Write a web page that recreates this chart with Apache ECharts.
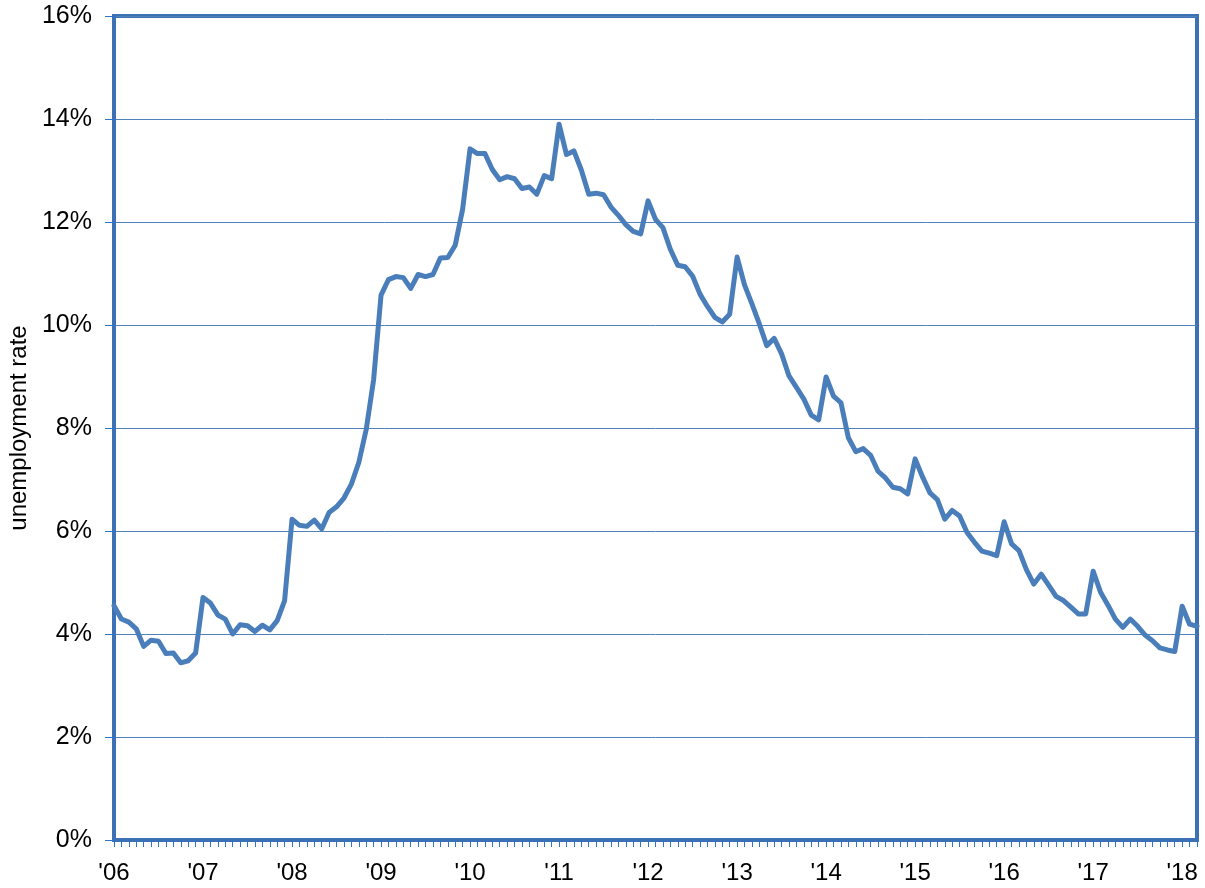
<!DOCTYPE html>
<html>
<head>
<meta charset="utf-8">
<script src="https://cdn.jsdelivr.net/npm/echarts@6/dist/echarts.min.js"></script>
<style>
  html, body { margin: 0; padding: 0; background: #fff; }
  #main { width: 1205px; height: 888px; }
</style>
</head>
<body>
<div id="main"></div>
<script>
// monthly unemployment rate (%), Jan 2006 .. Mar 2018
var years = ['06', '07', '08', '09', '10', '11', '12', '13', '14', '15', '16', '17', '18'];
var monthsInLastYear = 3;

var rate2006 = [4.55, 4.29, 4.23, 4.10, 3.76, 3.88, 3.86, 3.62, 3.63, 3.44, 3.48, 3.63];
var rate2007 = [4.71, 4.60, 4.37, 4.29, 4.00, 4.18, 4.16, 4.05, 4.17, 4.08, 4.26, 4.65];
var rate2008 = [6.23, 6.11, 6.09, 6.21, 6.04, 6.36, 6.47, 6.64, 6.91, 7.33, 7.97, 8.94];
var rate2009 = [10.58, 10.88, 10.94, 10.92, 10.71, 10.98, 10.94, 10.98, 11.30, 11.31, 11.55, 12.25];
var rate2010 = [13.42, 13.33, 13.33, 13.02, 12.82, 12.88, 12.84, 12.65, 12.68, 12.54, 12.90, 12.84];
var rate2011 = [13.90, 13.31, 13.38, 13.01, 12.54, 12.56, 12.53, 12.29, 12.13, 11.95, 11.82, 11.77];
var rate2012 = [12.41, 12.05, 11.89, 11.47, 11.16, 11.13, 10.95, 10.60, 10.36, 10.15, 10.06, 10.21];
var rate2013 = [11.32, 10.78, 10.41, 10.02, 9.60, 9.74, 9.44, 9.01, 8.79, 8.56, 8.25, 8.16];
var rate2014 = [8.99, 8.62, 8.49, 7.81, 7.54, 7.60, 7.47, 7.16, 7.03, 6.85, 6.82, 6.72];
var rate2015 = [7.40, 7.05, 6.74, 6.61, 6.23, 6.40, 6.29, 5.97, 5.78, 5.61, 5.57, 5.52];
var rate2016 = [6.18, 5.75, 5.62, 5.25, 4.97, 5.16, 4.95, 4.73, 4.65, 4.52, 4.39, 4.39];
var rate2017 = [5.22, 4.81, 4.56, 4.29, 4.13, 4.29, 4.15, 3.98, 3.87, 3.73, 3.69, 3.66];
var rate2018 = [4.54, 4.19, 4.15];

var rates = [].concat(rate2006, rate2007, rate2008, rate2009, rate2010, rate2011,
  rate2012, rate2013, rate2014, rate2015, rate2016, rate2017, rate2018);

// one category per month, label shown only on January
var months = [];
years.forEach(function (y, k) {
  var n = (k === years.length - 1) ? monthsInLastYear : 12;
  for (var m = 1; m <= n; m++) {
    months.push(y + '-' + (m < 10 ? '0' + m : m));
  }
});

var blue = '#4a7ebb';
var borderBlue = '#3c72b5';
var font = "'Liberation Sans', Arial, sans-serif";

var myChart = echarts.init(document.getElementById('main'));

var option = {
    animation: false,
    textStyle: { fontFamily: font },
    grid: {
        left: 114,
        right: 8,
        top: 16,
        bottom: 48,
        containLabel: false,
        outerBoundsMode: 'none',
        show: true,
        borderColor: borderBlue,
        borderWidth: 4
    },
    xAxis: {
        type: 'category',
        data: months,
        boundaryGap: false,
        axisLine: { show: true, lineStyle: { color: borderBlue, width: 4 } },
        axisTick: {
            show: true,
            interval: 0,
            length: 7,
            lineStyle: { color: '#2e75c9', width: 1 }
        },
        axisLabel: {
            interval: 11,
            margin: 21,
            color: '#000',
            fontSize: 24,
            fontFamily: font,
            formatter: function (v) { return "'" + v.slice(0, 2); }
        },
        splitLine: { show: false }
    },
    yAxis: {
        type: 'value',
        min: 0,
        max: 16,
        interval: 2,
        name: 'unemployment rate',
        nameLocation: 'middle',
        nameRotate: 90,
        nameGap: 80,
        nameTextStyle: {
            color: '#000',
            fontSize: 24,
            fontFamily: font
        },
        axisLine: { show: true, lineStyle: { color: borderBlue, width: 4 } },
        axisTick: { show: true, length: 9, lineStyle: { color: '#2e75c9', width: 1 } },
        axisLabel: {
            margin: 22,
            color: '#000',
            fontSize: 25,
            fontFamily: font,
            formatter: '{value}%'
        },
        splitLine: { show: true, lineStyle: { color: '#4f81bd', width: 1 } }
    },
    series: [
        {
            name: 'unemployment rate',
            type: 'line',
            data: rates,
            symbol: 'none',
            smooth: false,
            lineStyle: { color: blue, width: 5, join: 'round', cap: 'round' }
        }
    ]
};
myChart.setOption(option);
</script>
</body>
</html>
